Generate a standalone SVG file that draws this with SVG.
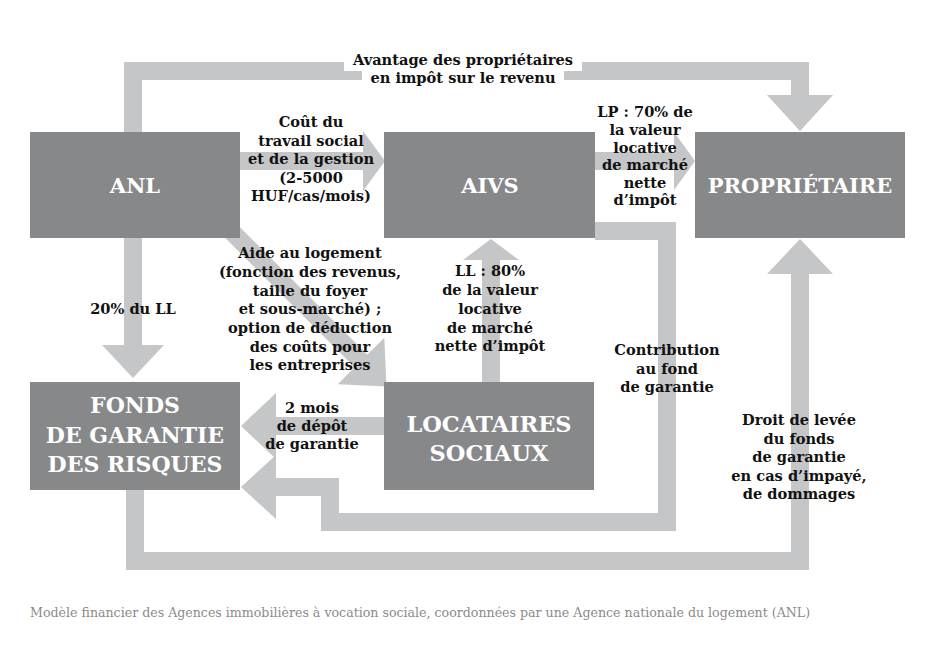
<svg xmlns="http://www.w3.org/2000/svg" width="939" height="649" viewBox="0 0 939 649">
<style>
.box{fill:#87888a}
.bt{font-family:"DejaVu Serif",serif;font-weight:bold;fill:#fff;text-anchor:middle}
.c{fill:none;stroke:#c5c6c8;stroke-width:18;stroke-linejoin:miter;stroke-linecap:butt}
.h{fill:#c5c6c8}
.lb{font-family:"DejaVu Serif",serif;font-weight:bold;font-size:14.6px;text-anchor:middle;fill:#111}
.cap{font-family:"DejaVu Serif",serif;font-size:12.6px;fill:#8a8a8a}
</style>
<rect width="939" height="649" fill="#fff"/>
<g id="connectors">
  <path class="c" d="M133,132 V71 H800 V96"/>
  <polygon class="h" points="767,95 833,95 800,131"/>
  <path class="c" d="M240,161 H364"/>
  <polygon class="h" points="363,131 363,191 385,161"/>
  <path class="c" d="M595,161 H675"/>
  <polygon class="h" points="674,132 674,190 695,161"/>
  <path class="c" d="M133,238 V346"/>
  <polygon class="h" points="102,345 164,345 133,378"/>
  <path class="c" d="M230,230 L362,362"/>
  <polygon class="h" points="384.3,337.7 337.7,384.3 386.5,386.5"/>
  <path class="c" d="M491,382 V259"/>
  <polygon class="h" points="463,260 519,260 491,239"/>
  <path class="c" d="M384,426 H275"/>
  <polygon class="h" points="276,393 276,459 241,426"/>
  <path class="c" d="M595,231 H667 V522 H330 V487 H275"/>
  <polygon class="h" points="276,455 276,519 241,487"/>
  <path class="c" d="M135,490 V561 H800 V273"/>
  <polygon class="h" points="767,274 833,274 800,239"/>
</g>
<g id="label-avantage">
  <rect x="344" y="50" width="238" height="21" fill="#fff"/>
  <rect x="362" y="70" width="202" height="19" fill="#fff"/>
  <text class="lb"><tspan x="463" y="65">Avantage des propriétaires</tspan><tspan x="463" y="83">en impôt sur le revenu</tspan></text>
</g>
<g id="anl">
  <rect class="box" x="30" y="132" width="210" height="106"/>
  <text class="bt" x="135" y="193" font-size="21">ANL</text>
</g>
<g id="aivs">
  <rect class="box" x="384" y="132" width="211" height="106"/>
  <text class="bt" x="490" y="193" font-size="21">AIVS</text>
</g>
<g id="proprietaire">
  <rect class="box" x="695" y="132" width="210" height="106"/>
  <text class="bt" x="800" y="193" font-size="21">PROPRIÉTAIRE</text>
</g>
<g id="fonds">
  <rect class="box" x="30" y="382" width="210" height="108"/>
  <text class="bt" x="135" y="413" font-size="22">FONDS</text>
  <text class="bt" x="135" y="443" font-size="22">DE GARANTIE</text>
  <text class="bt" x="135" y="472" font-size="22">DES RISQUES</text>
</g>
<g id="locataires">
  <rect class="box" x="384" y="382" width="210" height="108"/>
  <text class="bt" x="489" y="432" font-size="22.5">LOCATAIRES</text>
  <text class="bt" x="489" y="461" font-size="22.5">SOCIAUX</text>
</g>
<g id="labels">
  <text class="lb"><tspan x="311" y="127">Coût du</tspan><tspan x="311" y="145.5">travail social</tspan><tspan x="311" y="164">et de la gestion</tspan><tspan x="311" y="182.5">(2-5000</tspan><tspan x="311" y="201">HUF/cas/mois)</tspan></text>
  <text class="lb"><tspan x="645" y="117">LP : 70% de</tspan><tspan x="645" y="135">la valeur</tspan><tspan x="645" y="152.5">locative</tspan><tspan x="645" y="170">de marché</tspan><tspan x="645" y="187.5">nette</tspan><tspan x="645" y="205">d’impôt</tspan></text>
  <text class="lb"><tspan x="310" y="258">Aide au logement</tspan><tspan x="310" y="277">(fonction des revenus,</tspan><tspan x="310" y="295.5">taille du foyer</tspan><tspan x="310" y="314">et sous-marché) ;</tspan><tspan x="310" y="333">option de déduction</tspan><tspan x="310" y="351.5">des coûts pour</tspan><tspan x="310" y="370">les entreprises</tspan></text>
  <text class="lb"><tspan x="490" y="276">LL : 80%</tspan><tspan x="490" y="295">de la valeur</tspan><tspan x="490" y="314">locative</tspan><tspan x="490" y="332.5">de marché</tspan><tspan x="490" y="351">nette d’impôt</tspan></text>
  <text class="lb" x="133" y="314">20% du LL</text>
  <text class="lb"><tspan x="312" y="413">2 mois</tspan><tspan x="312" y="431">de dépôt</tspan><tspan x="312" y="449">de garantie</tspan></text>
  <text class="lb"><tspan x="667" y="355">Contribution</tspan><tspan x="667" y="373.5">au fond</tspan><tspan x="667" y="392">de garantie</tspan></text>
  <text class="lb"><tspan x="799" y="425">Droit de levée</tspan><tspan x="799" y="443.5">du fonds</tspan><tspan x="799" y="462">de garantie</tspan><tspan x="799" y="480.5">en cas d’impayé,</tspan><tspan x="799" y="499">de dommages</tspan></text>
</g>
<text class="cap" x="30" y="617">Modèle financier des Agences immobilières à vocation sociale, coordonnées par une Agence nationale du logement (ANL)</text>
</svg>
